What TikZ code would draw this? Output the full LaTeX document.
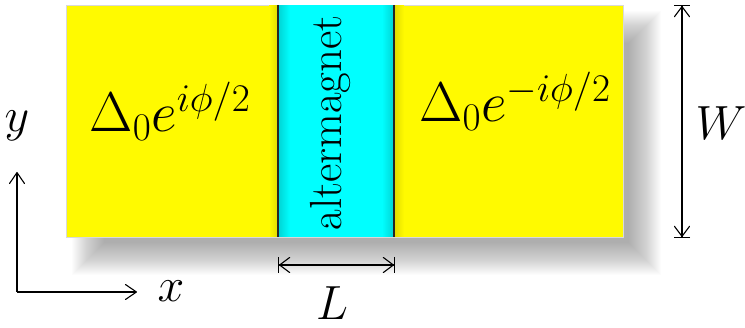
\documentclass[tikz,border=0pt]{standalone}
\usepackage{fix-cm}
\usetikzlibrary{arrows.meta}
\definecolor{cyn}{RGB}{0,255,255}
\definecolor{cyndark}{RGB}{0,215,215}
\definecolor{yel}{RGB}{255,250,0}
\definecolor{yeldark}{RGB}{228,222,0}
\begin{document}
\begin{tikzpicture}[x=1pt,y=-1pt,
  lab/.style={font=\fontsize{48}{52}\selectfont, inner sep=0pt, anchor=base},
  big/.style={font=\fontsize{56}{60}\selectfont, inner sep=0pt, anchor=base},
  dim/.style={line width=1.1pt, arrows={Bar[width=16pt]Straight Barb[length=10pt,width=15pt,round]-Straight Barb[length=10pt,width=15pt,round]Bar[width=16pt]}},
  axis/.style={line width=1.1pt, -{Straight Barb[length=11pt,width=15pt,round]}},
  wall/.style={line width=2pt, black!85}]
\useasboundingbox (0,0) rectangle (745,328);
% soft shadow
\foreach \r in {-16,...,16}
  \fill[black, opacity=0.013] (66+22-\r,5+22-\r) rectangle (623+22+\r,237+22+\r);
% slab
\fill[yel, draw=gray!30, line width=0.8pt] (66,5) rectangle (623,237);
\fill[cyn] (278,5) rectangle (394,237);
% subtle edge shading
\shade[left color=cyndark, right color=cyn] (279,5.5) rectangle (290,236.5);
\shade[left color=cyn, right color=cyndark] (382,5.5) rectangle (393,236.5);
\shade[left color=yeldark, right color=yel] (395,5.5) rectangle (404,236.5);
\shade[left color=yel, right color=yeldark] (269,5.5) rectangle (277,236.5);
\coordinate (wl1) at (278,5); \coordinate (wl2) at (278,237);
\coordinate (wr1) at (394,5); \coordinate (wr2) at (394,237);
\draw[wall] (wl1) -- (wl2);
\draw[wall] (wr1) -- (wr2);
% texts
\node[big] (left) at (170,132) {$\Delta_0 e^{i\phi/2}$};
\node[big] (right) at (515,122) {$\Delta_0 e^{-i\phi/2}$};
\node[rotate=90, font=\fontsize{45}{48}\selectfont, inner sep=0pt] (am) at (330,123) {altermagnet};
% dimension W
\coordinate (wt) at (682,5);
\coordinate (wb) at (682,238);
\draw[dim] (wt) -- (wb);
\node[lab] (W) at (721,140) {$W$};
% dimension L
\coordinate (la) at (278,265);
\coordinate (lb) at (395,265);
\draw[dim] (la) -- (lb);
\node[lab] (L) at (332,320) {$L$};
% axes
\coordinate (o) at (17,292);
\coordinate (ytip) at (17,172);
\coordinate (xtip) at (137,292);
\draw[axis] (o) -- (ytip);
\draw[axis] (o) -- (xtip);
\node[lab] (ylab) at (17,132) {$y$};
\node[lab] (xlab) at (171,302) {$x$};
\end{tikzpicture}
\end{document}
